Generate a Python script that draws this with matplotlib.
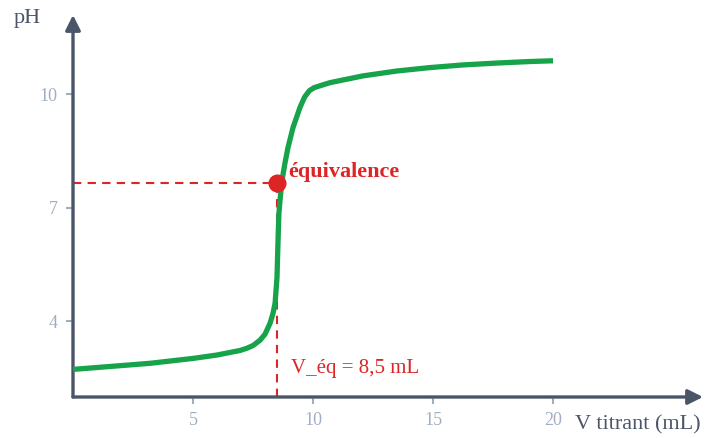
import matplotlib.pyplot as plt

# titration curve
volume = [0, 3.2, 5, 6.0, 6.96, 7.25, 7.5, 7.79, 8.0, 8.21, 8.33, 8.42, 8.5, 8.54,
          8.58, 8.64, 8.71, 8.83, 8.96, 9.17, 9.46, 9.65, 9.85, 10.05, 10.7, 12.08,
          13.5, 14.88, 16.25, 17.67, 19.04, 20]
ph = [2.73, 2.89, 3.02, 3.11, 3.23, 3.29, 3.36, 3.50, 3.66, 3.95, 4.2, 4.48, 5.16, 6.06,
      6.86, 7.3, 7.73, 8.18, 8.60, 9.13, 9.66, 9.93, 10.1, 10.18, 10.31, 10.49,
      10.62, 10.71, 10.78, 10.83, 10.87, 10.89]
v_eq, ph_eq = 8.5, 7.65
xticks = [5, 10, 15, 20]
yticks = [4, 7, 10]

axis_col = '#4a5568'
tick_col = '#a0aec0'
red = '#dc2626'
green = '#16a34a'

plt.rcParams['font.family'] = ['Liberation Serif', 'DejaVu Serif']

fig = plt.figure(figsize=(7.09, 4.38), dpi=100)
ax = fig.add_axes([73 / 709, 41 / 438, 630 / 709, 382 / 438])
ax.set_xlim(0, 26.25)
ax.set_ylim(2, 12.1)
for s in ax.spines.values():
    s.set_visible(False)

# axes with arrow heads
arrow = dict(arrowstyle='-|>,head_length=0.9,head_width=0.45', color=axis_col,
             lw=2.4, shrinkA=0, shrinkB=0)
ax.annotate('', xy=(1, 0), xytext=(0, 0), xycoords='axes fraction', arrowprops=arrow)
ax.annotate('', xy=(0, 1), xytext=(0, 0), xycoords='axes fraction', arrowprops=arrow)

ax.set_xticks(xticks)
ax.set_yticks(yticks)
ax.tick_params(colors=tick_col, labelcolor=tick_col, labelsize=13, length=5, width=1.5,
               direction='out', pad=6)

# dashed guides to the equivalence point
ax.plot([0, v_eq], [ph_eq, ph_eq], color=red, lw=1.5, ls=(0, (4, 3)), zorder=2)
ax.plot([v_eq, v_eq], [2, ph_eq], color=red, lw=1.5, ls=(0, (4, 3)), zorder=2)

ax.plot(volume, ph, color=green, lw=3.8, solid_capstyle='butt', solid_joinstyle='round',
        zorder=3)
ax.plot([v_eq], [ph_eq], 'o', color=red, ms=12, zorder=4)

ax.text(v_eq + 0.45, ph_eq + 0.3, 'équivalence', color=red, fontsize=16,
        fontweight='bold', va='center', ha='left')
ax.text(v_eq + 0.6, 2.75, 'V_éq = 8,5 mL', color=red, fontsize=15, va='center', ha='left')

fig.text(14 / 709, 1 - 18 / 438, 'pH', color=axis_col, fontsize=16, va='center', ha='left')
fig.text(575 / 709, 1 - 425 / 438, 'V titrant (mL)', color=axis_col, fontsize=16,
         va='center', ha='left')

fig.savefig('out.png', dpi=100)
